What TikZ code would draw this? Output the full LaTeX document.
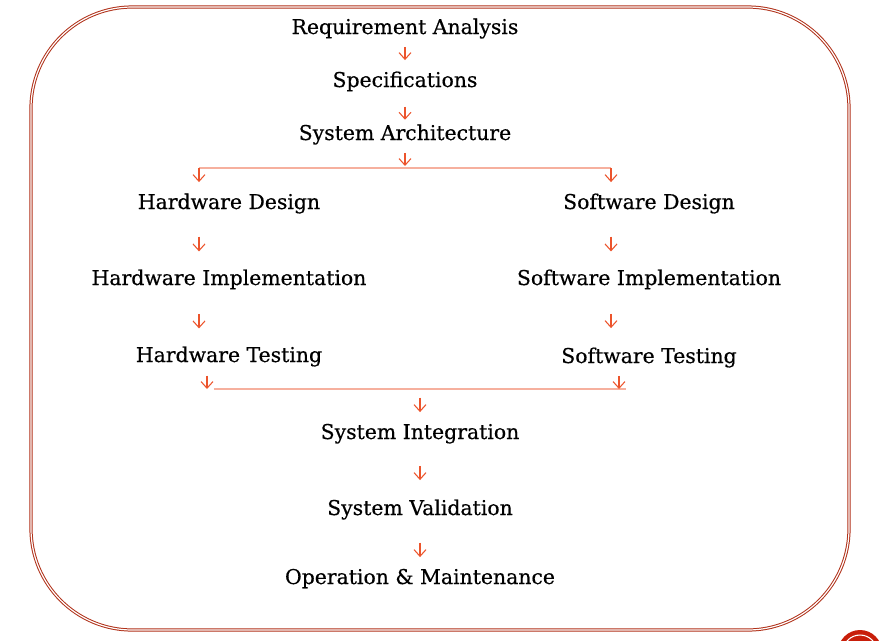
\documentclass[tikz,border=0pt]{standalone}
\usepackage{fontspec}
\setmainfont{DejaVu Serif}
\newfontfamily\stagefont{DejaVu Serif}[FakeBold=0.5]
\usetikzlibrary{arrows.meta, positioning}
\definecolor{cFrame}{RGB}{176,48,24}
\definecolor{cArrow}{RGB}{236,84,44}
\definecolor{cBar}{RGB}{246,176,158}
\definecolor{cBadge}{RGB}{200,30,10}
\tikzset{
  stage/.style={font=\stagefont\fontsize{15.3}{18}\selectfont, text=black,
                inner sep=2pt, text height=11pt, text depth=3.5pt},
  flow/.style={-{Straight Barb[length=5pt, width=9pt, line width=0.8pt]},
               draw=cArrow, line width=0.8pt},
  gap/.style 2 args={shorten <=#1, shorten >=#2},
  bar/.style={draw=cBar, line width=1.5pt},
  frame/.style={draw=cFrame, line width=0.75pt, double=white,
                double distance=0.9pt, rounded corners=76pt},
}

\begin{document}
\begin{tikzpicture}[x=0.75pt, y=-0.75pt]
\useasboundingbox (0,0) rectangle (888,640);

%% ============================================================
%%  FRAME
%% ============================================================
\draw[frame] (31,7) rectangle (849,630);

%% ============================================================
%%  COLUMN POSITIONS
%% ============================================================
\def\Cx{405}
\def\Hx{229}
\def\Sx{649}
\def\Ix{420}

%% ----- Top chain -----
\node[stage] (req)  at (\Cx, 29)  {Requirement Analysis};
\node[stage] (spec) at (\Cx, 82)  {Specifications};
\node[stage] (arch) at (\Cx, 135) {System Architecture};

\draw[flow, gap={4pt}{7pt}] (req) -- (spec);
\draw[flow, gap={9pt}{2pt}] (spec) -- (arch);

%% ----- Hardware branch -----
\node[stage] (hwd) at (\Hx, 204) {Hardware Design};
\node[stage] (hwi) at (\Hx, 280) {Hardware Implementation};
\node[stage] (hwt) at (\Hx, 357) {Hardware Testing};

%% ----- Software branch -----
\node[stage] (swd) at (\Sx, 204) {Software Design};
\node[stage] (swi) at (\Sx, 280) {Software Implementation};
\node[stage] (swt) at (\Sx, 358) {Software Testing};

%% ----- Split bar -----
\coordinate (splitL) at (199, 168);
\coordinate (splitR) at (611, 168);
\draw[bar] (splitL) -- (splitR);
\draw[flow, gap={4pt}{1.5pt}] (arch) -- (arch |- splitL);
\draw[flow, gap={0pt}{7pt}] (splitL) -- (hwd.north -| splitL);
\draw[flow, gap={0pt}{7pt}] (splitR) -- (swd.north -| splitR);

\draw[flow, gap={15pt}{12pt}] (hwd.south -| splitL) -- (hwi.north -| splitL);
\draw[flow, gap={15pt}{12pt}] (swd.south -| splitR) -- (swi.north -| splitR);
\draw[flow, gap={16pt}{12pt}] (hwi.south -| splitL) -- (hwt.north -| splitL);
\draw[flow, gap={16pt}{13pt}] (swi.south -| splitR) -- (swt.north -| splitR);

%% ----- Join bar -----
\coordinate (joinL) at (207, 389);
\coordinate (joinR) at (619, 389);
\draw[bar] ([xshift=5pt]joinL) -- ([xshift=5pt]joinR);
\draw[flow, gap={4.5pt}{0pt}] (hwt.south -| joinL) -- (joinL);
\draw[flow, gap={4pt}{0pt}] (swt.south -| joinR) -- (joinR);

%% ----- Bottom chain -----
\node[stage] (integ) at (\Ix, 434) {System Integration};
\node[stage] (valid) at (\Ix, 510) {System Validation};
\node[stage] (oper)  at (\Ix, 579) {Operation \& Maintenance};

\draw[flow, gap={6.5pt}{7pt}] (integ.north |- joinL) -- (integ.north);
\draw[flow, gap={14.5pt}{13pt}] (integ) -- (valid);
\draw[flow, gap={15pt}{7pt}] (valid) -- (oper);

%% ----- Corner badge -----
\fill[cBadge] (860, 652) circle (22);
\draw[white, line width=0.8pt] (860, 652) circle (17);

\end{tikzpicture}
\end{document}
